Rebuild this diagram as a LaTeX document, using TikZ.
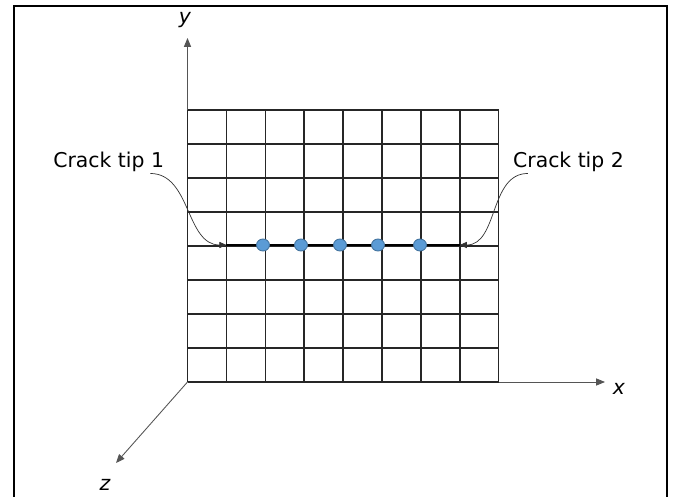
\documentclass[tikz,border=0pt]{standalone}
\usepackage{fontspec}
\setmainfont{DejaVu Sans}
\usetikzlibrary{arrows.meta,positioning,calc,shapes.geometric}
\definecolor{dotblue}{RGB}{91,155,213}
\definecolor{dotedge}{RGB}{65,113,156}
\definecolor{axisgray}{RGB}{85,85,85}

\begin{document}
\begin{tikzpicture}[
    x=0.02cm, y=-0.02cm,
    gridline/.style={line width=0.8pt, color=black!85},
    axis/.style={-{Triangle[length=5pt,width=4pt]}, line width=0.5pt, color=axisgray},
    crack/.style={line width=1.2pt},
    tipdot/.style={ellipse, draw=dotedge, fill=dotblue, line width=0.5pt, minimum width=0.26cm, minimum height=0.24cm, inner sep=0pt},
    callout/.style={-{Triangle[length=4pt,width=3.5pt]}, line width=0.4pt, color=black!80},
    lbl/.style={font=\fontsize{11.6}{14}\selectfont, inner sep=1pt},
    axlbl/.style={font=\fontsize{11.6}{14}\selectfont\itshape}
]

\useasboundingbox (0,0) rectangle (674,497);

% Frame
\draw[line width=1.4pt] (14,497) -- (14,6) -- (667,6) -- (667,497);

% Axes
\coordinate (O) at (187.5,382);
\coordinate (yend) at (187.5,38);
\coordinate (xend) at (605,382);
\coordinate (zend) at (116,463);
\draw[axis] (O) -- (yend);
\draw[axis] (O) -- (xend);
\draw[axis] (O) -- (zend);
\node[axlbl] (ylab) at (185,20) {y};
\node[axlbl] (xlab) at (619,389) {x};
\node[axlbl] (zlab) at (105,485) {z};

% Grid (8 x 8 cells)
\foreach \i in {0,...,8} {
  \draw[gridline] (187.5+38.9*\i,110) -- (187.5+38.9*\i,382);
  \draw[gridline] (187.5,110+34*\i) -- (498.7,110+34*\i);
}

% Crack with nodes
\coordinate (tip1) at (226.4,245);
\coordinate (tip2) at (459.8,245);
\draw[crack] (tip1) -- (tip2);
\foreach \cx [count=\k] in {263,301,340,378,420}
  \node[tipdot] (d\k) at (\cx,245) {};

% Crack tip labels
\node[lbl] (lab1) at (108.7,161.5) {Crack tip 1};
\node[lbl] (lab2) at (568.5,161.5) {Crack tip 2};
\draw[callout] ([xshift=-9pt]lab1.south east) to[out=0, in=180] (tip1);
\draw[callout] ([xshift=9.5pt]lab2.south west) to[out=180, in=0] (tip2);

\end{tikzpicture}
\end{document}
